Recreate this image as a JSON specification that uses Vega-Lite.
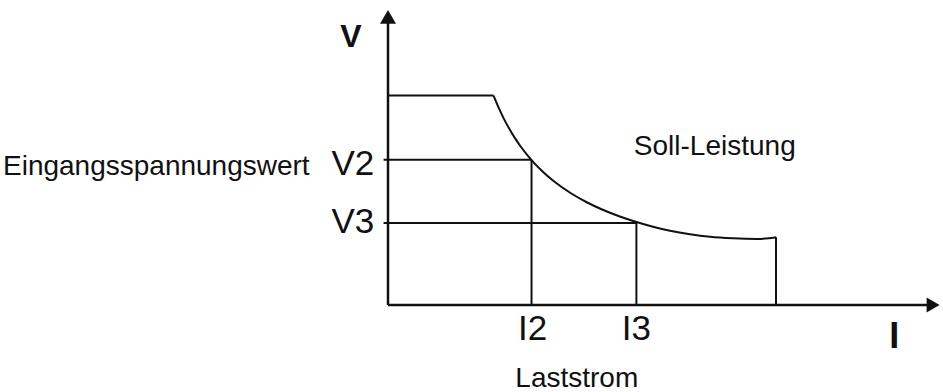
{
  "$schema": "https://vega.github.io/schema/vega-lite/v6.json",
  "width": 552,
  "height": 295,
  "autosize": {"type": "none"},
  "padding": {"left": 388, "top": 10, "right": 3, "bottom": 87},
  "background": "white",
  "config": {"view": {"stroke": null}, "text": {"font": "Liberation Sans", "color": "#111111"}},
  "datasets": {
    "axes": [
      {"x": 0, "y": 0, "x2": 0, "y2": 97},
      {"x": 0, "y": 0, "x2": 98, "y2": 0}
    ],
    "lines": [
      {"x": 0, "y": 71.0, "x2": 19.12, "y2": 71.0},
      {"x": -0.8, "y": 49.2, "x2": 26.0, "y2": 49.2},
      {"x": -0.8, "y": 27.8, "x2": 45.0, "y2": 27.8},
      {"x": 26.0, "y": 0, "x2": 26.0, "y2": 49.2},
      {"x": 45.0, "y": 0, "x2": 45.0, "y2": 27.8},
      {"x": 70.29, "y": 0, "x2": 70.29, "y2": 23.0}
    ],
    "curve": [
      {"x": 19.12, "y": 71.0},
      {"x": 20.0, "y": 67.06},
      {"x": 21.0, "y": 63.11},
      {"x": 22.0, "y": 59.65},
      {"x": 23.0, "y": 56.57},
      {"x": 24.0, "y": 53.82},
      {"x": 26.0, "y": 49.13},
      {"x": 28.0, "y": 45.26},
      {"x": 30.0, "y": 42.02},
      {"x": 33.0, "y": 38.04},
      {"x": 36.0, "y": 34.83},
      {"x": 39.0, "y": 32.2},
      {"x": 42.0, "y": 30.0},
      {"x": 45.0, "y": 28.13},
      {"x": 48.0, "y": 26.53},
      {"x": 51.09, "y": 25.15},
      {"x": 54.71, "y": 23.95},
      {"x": 58.33, "y": 23.1},
      {"x": 62.5, "y": 22.6},
      {"x": 66.85, "y": 22.4},
      {"x": 69.0, "y": 22.6},
      {"x": 70.29, "y": 23.0}
    ],
    "arrowUp": [{"x": 0, "y": 97.65}],
    "arrowRight": [{"x": 98.75, "y": 0}],
    "boldV": [{"label": "V", "x": -6.7, "y": 87.6}],
    "boldI": [{"label": "I", "x": 91.7, "y": -14.6}],
    "vlabels": [
      {"label": "V2", "x": -2.5, "y": 44.1},
      {"label": "V3", "x": -2.5, "y": 24.3}
    ],
    "ilabels": [
      {"label": "I2", "x": 26.2, "y": -11.9},
      {"label": "I3", "x": 45.0, "y": -11.9}
    ],
    "leftText": [{"label": "Eingangsspannungswert", "x": -69.75, "y": 44.1}],
    "centerText": [
      {"label": "Laststrom", "x": 34.2, "y": -27.7},
      {"label": "Soll-Leistung", "x": 59.2, "y": 50.8}
    ]
  },
  "layer": [
    {
      "data": {"name": "axes"},
      "mark": {"type": "rule", "strokeWidth": 2.5, "color": "#111111"},
      "encoding": {
        "x": {"field": "x", "type": "quantitative", "scale": {"domain": [0, 100], "nice": false, "zero": false}, "axis": null},
        "y": {"field": "y", "type": "quantitative", "scale": {"domain": [0, 100], "nice": false, "zero": false}, "axis": null},
        "x2": {"field": "x2"},
        "y2": {"field": "y2"}
      }
    },
    {
      "data": {"name": "lines"},
      "mark": {"type": "rule", "strokeWidth": 2, "color": "#111111"},
      "encoding": {
        "x": {"field": "x", "type": "quantitative", "scale": {"domain": [0, 100], "nice": false, "zero": false}, "axis": null},
        "y": {"field": "y", "type": "quantitative", "scale": {"domain": [0, 100], "nice": false, "zero": false}, "axis": null},
        "x2": {"field": "x2"},
        "y2": {"field": "y2"}
      }
    },
    {
      "data": {"name": "curve"},
      "mark": {"type": "line", "strokeWidth": 2, "color": "#111111", "interpolate": "monotone"},
      "encoding": {
        "x": {"field": "x", "type": "quantitative", "scale": {"domain": [0, 100], "nice": false, "zero": false}, "axis": null},
        "y": {"field": "y", "type": "quantitative", "scale": {"domain": [0, 100], "nice": false, "zero": false}, "axis": null}
      }
    },
    {
      "data": {"name": "arrowUp"},
      "mark": {"type": "point", "shape": "triangle-up", "size": 256, "filled": true, "color": "#111111", "opacity": 1},
      "encoding": {
        "x": {"field": "x", "type": "quantitative", "scale": {"domain": [0, 100], "nice": false, "zero": false}, "axis": null},
        "y": {"field": "y", "type": "quantitative", "scale": {"domain": [0, 100], "nice": false, "zero": false}, "axis": null}
      }
    },
    {
      "data": {"name": "arrowRight"},
      "mark": {"type": "point", "shape": "triangle-right", "size": 225, "filled": true, "color": "#111111", "opacity": 1},
      "encoding": {
        "x": {"field": "x", "type": "quantitative", "scale": {"domain": [0, 100], "nice": false, "zero": false}, "axis": null},
        "y": {"field": "y", "type": "quantitative", "scale": {"domain": [0, 100], "nice": false, "zero": false}, "axis": null}
      }
    },
    {
      "data": {"name": "boldV"},
      "mark": {"type": "text", "fontSize": 32, "fontWeight": "bold", "align": "center", "baseline": "alphabetic"},
      "encoding": {
        "x": {"field": "x", "type": "quantitative", "scale": {"domain": [0, 100], "nice": false, "zero": false}, "axis": null},
        "y": {"field": "y", "type": "quantitative", "scale": {"domain": [0, 100], "nice": false, "zero": false}, "axis": null},
        "text": {"field": "label"}
      }
    },
    {
      "data": {"name": "boldI"},
      "mark": {"type": "text", "fontSize": 36, "fontWeight": "bold", "align": "center", "baseline": "alphabetic"},
      "encoding": {
        "x": {"field": "x", "type": "quantitative", "scale": {"domain": [0, 100], "nice": false, "zero": false}, "axis": null},
        "y": {"field": "y", "type": "quantitative", "scale": {"domain": [0, 100], "nice": false, "zero": false}, "axis": null},
        "text": {"field": "label"}
      }
    },
    {
      "data": {"name": "vlabels"},
      "mark": {"type": "text", "fontSize": 35, "align": "right", "baseline": "alphabetic"},
      "encoding": {
        "x": {"field": "x", "type": "quantitative", "scale": {"domain": [0, 100], "nice": false, "zero": false}, "axis": null},
        "y": {"field": "y", "type": "quantitative", "scale": {"domain": [0, 100], "nice": false, "zero": false}, "axis": null},
        "text": {"field": "label"}
      }
    },
    {
      "data": {"name": "ilabels"},
      "mark": {"type": "text", "fontSize": 35, "align": "center", "baseline": "alphabetic"},
      "encoding": {
        "x": {"field": "x", "type": "quantitative", "scale": {"domain": [0, 100], "nice": false, "zero": false}, "axis": null},
        "y": {"field": "y", "type": "quantitative", "scale": {"domain": [0, 100], "nice": false, "zero": false}, "axis": null},
        "text": {"field": "label"}
      }
    },
    {
      "data": {"name": "leftText"},
      "mark": {"type": "text", "fontSize": 28, "align": "left", "baseline": "alphabetic"},
      "encoding": {
        "x": {"field": "x", "type": "quantitative", "scale": {"domain": [0, 100], "nice": false, "zero": false}, "axis": null},
        "y": {"field": "y", "type": "quantitative", "scale": {"domain": [0, 100], "nice": false, "zero": false}, "axis": null},
        "text": {"field": "label"}
      }
    },
    {
      "data": {"name": "centerText"},
      "mark": {"type": "text", "fontSize": 28, "align": "center", "baseline": "alphabetic"},
      "encoding": {
        "x": {"field": "x", "type": "quantitative", "scale": {"domain": [0, 100], "nice": false, "zero": false}, "axis": null},
        "y": {"field": "y", "type": "quantitative", "scale": {"domain": [0, 100], "nice": false, "zero": false}, "axis": null},
        "text": {"field": "label"}
      }
    }
  ]
}
